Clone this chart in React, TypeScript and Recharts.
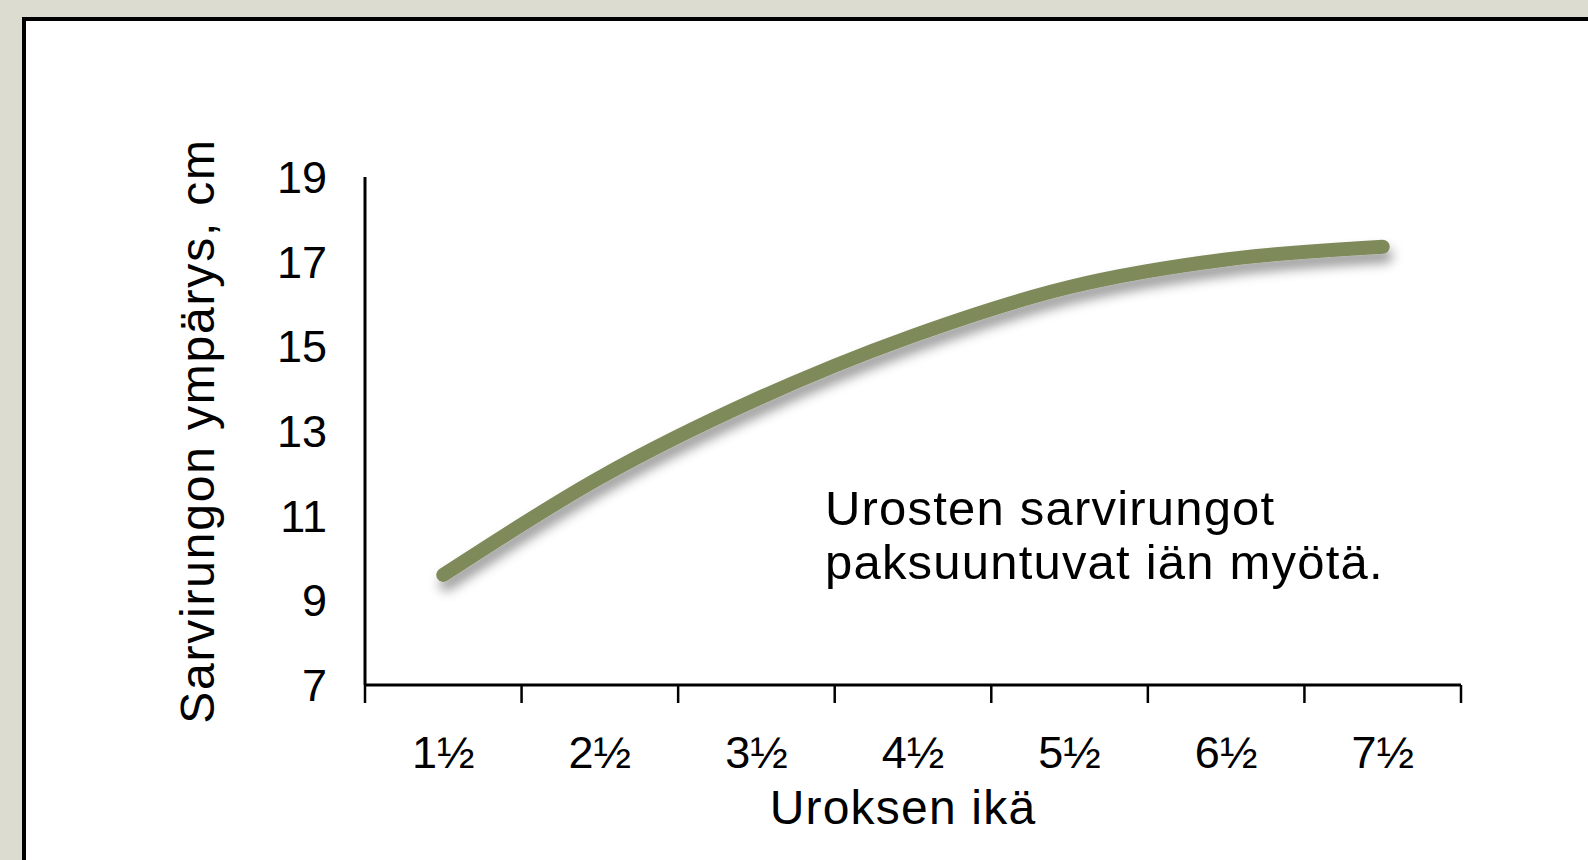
import React from 'react';
import { LineChart, Line, XAxis, YAxis } from 'recharts';

// ages of the males (x), middle of each one-year band
const ages = [1.5, 2.5, 3.5, 4.5, 5.5, 6.5, 7.5];
const ageLabels = ['1½', '2½', '3½', '4½', '5½', '6½', '7½'];
// antler base circumference, cm
const girth = [9.6, 11.9, 13.75, 15.25, 16.4, 17.05, 17.35];

const yTicks = [7, 9, 11, 13, 15, 17, 19];
const bandEdges = [1, 2, 3, 4, 5, 6, 7, 8];

const data = ages.map((age, i) => ({ age, girth: girth[i] }));

const FONT = '"Liberation Sans", Arial, Helvetica, sans-serif';

const App: React.FC = () => {
  const labelFor = (v: number) => {
    const i = ages.indexOf(v);
    return i >= 0 ? ageLabels[i] : '';
  };

  return (
    <div
      style={{
        position: 'absolute',
        left: 0,
        top: 0,
        width: 1588,
        height: 860,
        overflow: 'hidden',
        background: '#dcddd0',
        fontFamily: FONT,
      }}
    >
      <div
        style={{
          position: 'absolute',
          left: 22,
          top: 17,
          width: 1700,
          height: 1000,
          background: '#ffffff',
          border: '4px solid #000',
        }}
      />
      <div style={{ position: 'absolute', left: 0, top: 0 }}>
        <LineChart
          width={1588}
          height={860}
          data={data}
          margin={{ top: 177, right: 127, left: 150, bottom: 24 }}
        >
          <defs>
            <filter id="lineShadow" x="-10%" y="-30%" width="120%" height="160%">
              <feDropShadow dx="3" dy="9" stdDeviation="6" floodColor="#000" floodOpacity="0.4" />
            </filter>
          </defs>
          {/* band edge ticks + axis line */}
          <XAxis
            xAxisId="axis1"
            dataKey="age"
            type="number"
            domain={[1, 8]}
            ticks={bandEdges}
            interval={0}
            height={1}
            tickFormatter={() => ''}
            tickSize={18}
            tickLine={{ stroke: '#000', strokeWidth: 2.5 }}
            axisLine={{ stroke: '#000', strokeWidth: 3 }}
          />
          {/* age labels at band centres */}
          <XAxis
            xAxisId="axis2"
            dataKey="age"
            type="number"
            domain={[1, 8]}
            ticks={ages}
            interval={0}
            height={150}
            tickFormatter={labelFor}
            tickLine={false}
            axisLine={false}
            tickSize={0}
            tickMargin={50}
            tick={{ fill: '#000', fontSize: 45, fontFamily: FONT }}
            label={{
              value: 'Uroksen ikä',
              position: 'insideBottom',
              offset: 12,
              dx: -10,
              fill: '#000',
              fontSize: 48,
              fontFamily: FONT,
              letterSpacing: 1.2,
            }}
          />
          <YAxis
            type="number"
            domain={[7, 19]}
            ticks={yTicks}
            width={215}
            interval={0}
            tickLine={false}
            tickSize={0}
            tickMargin={38}
            axisLine={{ stroke: '#000', strokeWidth: 3 }}
            tick={{ fill: '#000', fontSize: 45, fontFamily: FONT }}
            label={{
              value: 'Sarvirungon ympärys, cm',
              angle: -90,
              position: 'insideLeft',
              offset: 47,
              fill: '#000',
              fontSize: 48,
              fontFamily: FONT,
              letterSpacing: 1.8,
              style: { textAnchor: 'middle' },
            }}
          />
          <Line
            xAxisId="axis2"
            type="monotone"
            dataKey="girth"
            stroke="#7e8a5a"
            strokeWidth={14}
            strokeLinecap="round"
            dot={false}
            activeDot={false}
            filter="url(#lineShadow)"
            isAnimationActive={false}
          />
          <text x={825} y={525} fontSize={49} fontFamily={FONT} fill="#000" letterSpacing={1.2}>
            <tspan x={825} y={525}>Urosten sarvirungot</tspan>
            <tspan x={825} y={579}>paksuuntuvat iän myötä.</tspan>
          </text>
        </LineChart>
      </div>
    </div>
  );
};

export default App;
